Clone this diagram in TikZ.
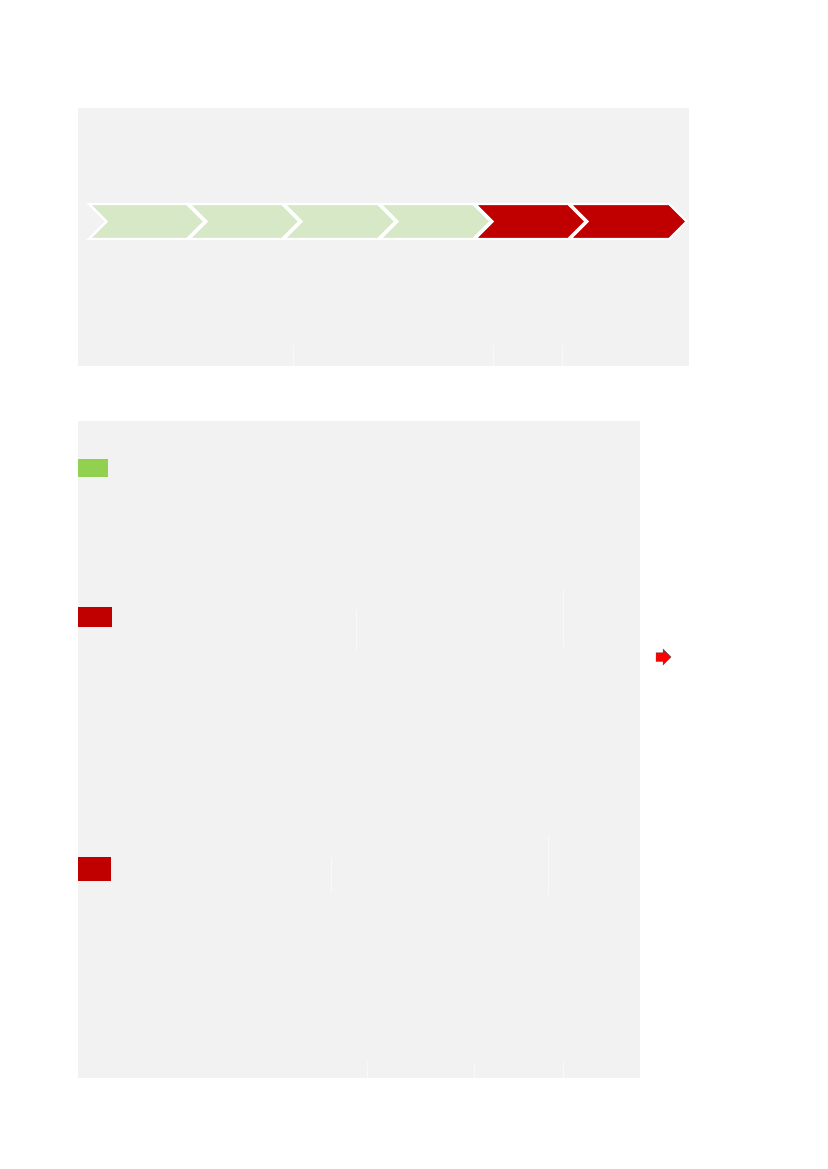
\documentclass[tikz,border=0pt]{standalone}
\definecolor{panelbg}{HTML}{F2F2F2}
\definecolor{chevgreen}{HTML}{D7E8C6}
\definecolor{chevred}{HTML}{C00000}
\definecolor{keygreen}{HTML}{92D050}
\definecolor{arrowred}{HTML}{FF0000}
\begin{document}
\begin{tikzpicture}[x=0.75pt,y=-0.75pt,line join=miter,
  panel/.style={fill=panelbg},
  faint/.style={draw=white!55!panelbg,line width=0.5pt},
  chev/.style={draw=white,line width=1.6pt},
  keybox/.style={draw=none}]
\useasboundingbox (0,0) rectangle (827,1169);
\fill[white] (0,0) rectangle (827,1169);
% panels
\path[panel] (78,108) rectangle (689,366);
\path[panel] (78,421) rectangle (640,1078);
% faint grid traces
\foreach \x in {293,493,562} \draw[faint] (\x,345) -- (\x,366);
\draw[faint] (356,610) -- (356,650);
\draw[faint] (563,590) -- (563,647);
\draw[faint] (331,858) -- (331,893);
\draw[faint] (548,835) -- (548,895);
\foreach \x in {367,474,563} \draw[faint] (\x,1062) -- (\x,1078);
% chevrons
\foreach \b/\s/\c [count=\i] in {89/187/chevgreen,189/282/chevgreen,284/378/chevgreen,380/473/chevgreen,475/568/chevred,570/669/chevred}
  \filldraw[chev,fill=\c] (\b,204) -- (\s,204) -- (\s+17.5,221.5) -- (\s,239) -- (\b,239) -- (\b+17.5,221.5) -- cycle;
% legend squares
\fill[keygreen] (78,459) rectangle (108,477);
\fill[chevred] (78,607) rectangle (112,627);
\fill[chevred] (78,857) rectangle (111,881);
% small red arrow
\filldraw[fill=arrowred,draw=black!60,line width=0.3pt]
  (656,652.5) -- (663,652.5) -- (663,649) -- (671,657) -- (663,665) -- (663,661.5) -- (656,661.5) -- cycle;
\end{tikzpicture}
\end{document}
